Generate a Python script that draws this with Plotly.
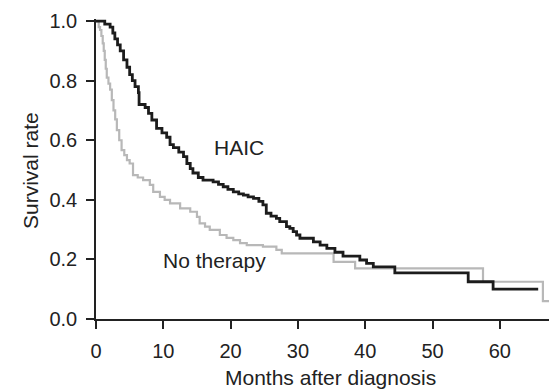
import plotly.graph_objects as go

# HAIC group (black) Kaplan-Meier steps: months, survival
haic_months = [0, 1.3, 2.1, 2.5, 2.8, 3.2, 3.6, 4.1, 4.6, 5.0, 5.4, 5.8, 6.3, 6.4, 7.3, 7.8,
               8.3, 9.0, 9.8, 10.5, 11.0, 11.5, 12.3, 13.0, 13.5, 14.0, 14.4, 15.2, 15.9,
               17.4, 18.2, 18.9, 19.6, 20.4, 21.2, 21.9, 22.6, 23.4, 24.2, 24.8, 25.3,
               26.0, 26.8, 27.3, 28.3, 28.8, 29.3, 29.8, 30.3, 32.3, 33.3, 34.3, 35.5,
               36.7, 39.2, 40.2, 41.2, 44.4, 55.3, 59.0, 65.7]
haic_surv = [1.0, 0.99, 0.98, 0.96, 0.94, 0.92, 0.90, 0.87, 0.845, 0.82, 0.80, 0.78, 0.76,
             0.72, 0.71, 0.69, 0.668, 0.64, 0.625, 0.61, 0.585, 0.575, 0.56, 0.545, 0.522,
             0.505, 0.49, 0.475, 0.466, 0.46, 0.452, 0.444, 0.435, 0.427, 0.42, 0.416, 0.41,
             0.405, 0.395, 0.383, 0.355, 0.345, 0.338, 0.327, 0.31, 0.304, 0.293, 0.282,
             0.271, 0.259, 0.248, 0.237, 0.224, 0.211, 0.198, 0.187, 0.175, 0.155, 0.125,
             0.10, 0.10]

# No therapy group (gray)
none_months = [0, 0.4, 0.6, 0.8, 1.0, 1.15, 1.3, 1.45, 1.6, 1.85, 2.1, 2.35, 2.6, 2.85, 3.1,
               3.45, 3.8, 4.2, 4.6, 5.0, 5.5, 6.2, 7.0, 8.0, 8.5, 9.5, 10.2, 11.0, 12.5, 14.0,
               15.0, 15.4, 16.2, 16.9, 18.4, 19.4, 20.4, 21.4, 22.4, 24.8, 26.8, 27.6, 35.3,
               38.5, 57.5, 66.4, 68.0]
none_surv = [1.0, 0.98, 0.97, 0.95, 0.925, 0.90, 0.87, 0.84, 0.81, 0.79, 0.77, 0.735, 0.70,
             0.67, 0.634, 0.60, 0.567, 0.55, 0.533, 0.522, 0.483, 0.475, 0.466, 0.45, 0.427,
             0.41, 0.40, 0.388, 0.371, 0.36, 0.343, 0.321, 0.31, 0.299, 0.282, 0.272, 0.265,
             0.255, 0.248, 0.243, 0.232, 0.22, 0.192, 0.17, 0.125, 0.06, 0.06]

x_ticks = [0, 10, 20, 30, 40, 50, 60]
y_ticks = [0.0, 0.2, 0.4, 0.6, 0.8, 1.0]
y_tick_labels = ["0.0", "0.2", "0.4", "0.6", "0.8", "1.0"]

FONT = "Liberation Sans, Arial, Helvetica, sans-serif"
TXT = "#222222"

fig = go.Figure()
fig.add_trace(go.Scatter(x=none_months, y=none_surv, mode="lines", line_shape="hv",
                         line=dict(color="#b8b8b8", width=2.2), name="No therapy",
                         showlegend=False))
fig.add_trace(go.Scatter(x=haic_months, y=haic_surv, mode="lines", line_shape="hv",
                         line=dict(color="#1c1c1c", width=2.8), name="HAIC",
                         showlegend=False))

fig.add_annotation(x=21.25, y=0.577, text="HAIC", showarrow=False,
                   font=dict(family=FONT, size=21, color=TXT))
fig.add_annotation(x=17.6, y=0.196, text="No therapy", showarrow=False,
                   font=dict(family=FONT, size=21, color=TXT))

# axis titles placed precisely
fig.add_annotation(xref="x", yref="paper", x=(330 - 96) / 6.73, y=0, yanchor="middle",
                   yshift=-58.5, text="Months after diagnosis", showarrow=False,
                   font=dict(family=FONT, size=21, color=TXT))
fig.add_annotation(xref="paper", yref="paper", x=0, y=0.5, xanchor="center",
                   yanchor="middle", xshift=-66, yshift=-2, textangle=-90,
                   text="Survival rate", showarrow=False,
                   font=dict(family=FONT, size=21, color=TXT))

# page body has an 8px default margin: figure is shrunk/shifted to compensate
fig.update_layout(
    width=549, height=381,
    margin=dict(l=88, r=4, t=11, b=70),
    paper_bgcolor="white", plot_bgcolor="white",
    font=dict(family=FONT, size=20, color=TXT),
)
fig.update_xaxes(range=[0, 67.9], tickvals=x_ticks, ticks="outside", ticklen=8,
                 tickwidth=1.5, tickcolor=TXT, showline=True, linecolor=TXT, linewidth=1.5,
                 showgrid=False, zeroline=False, automargin=False, ticklabelstandoff=5,
                 tickfont=dict(size=20))
fig.update_yaxes(range=[0, 1.007], tickvals=y_ticks, ticktext=y_tick_labels, ticks="outside",
                 ticklen=8, tickwidth=1.5, tickcolor=TXT, showline=True, linecolor=TXT,
                 linewidth=1.5, showgrid=False, zeroline=False, automargin=False,
                 ticklabelstandoff=5, tickfont=dict(size=20))

fig.write_html("out.html")
